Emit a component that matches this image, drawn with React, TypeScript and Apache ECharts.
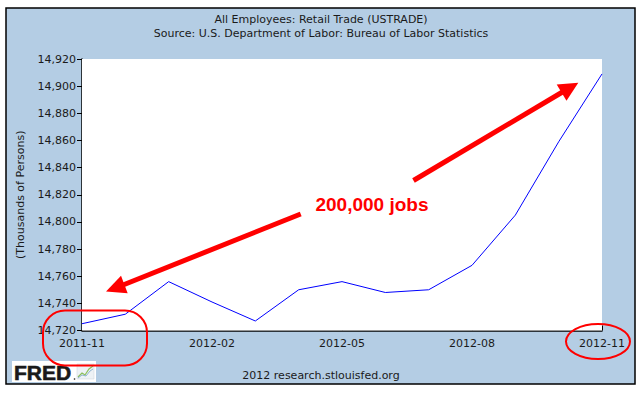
import React, { useEffect, useRef } from 'react';
import * as echarts from 'echarts';

const months = [
  '2011-11', '2011-12', '2012-01', '2012-02', '2012-03', '2012-04', '2012-05',
  '2012-06', '2012-07', '2012-08', '2012-09', '2012-10', '2012-11',
];
const retailEmployees = [
  14725, 14732, 14756, 14741, 14727, 14750, 14756,
  14748, 14750, 14768, 14805, 14859, 14909,
];
const yMin = 14720;
const yMax = 14920;
const yStep = 20;

const titleText = 'All Employees: Retail Trade (USTRADE)';
const subtitleText = 'Source: U.S. Department of Labor: Bureau of Labor Statistics';
const yAxisName = '(Thousands of Persons)';
const footerText = '2012 research.stlouisfed.org';
const annotationText = '200,000 jobs';

const FONT = 'DejaVu Sans';
const RED = '#ff0000';

export default function App() {
  const ref = useRef<HTMLDivElement>(null);
  useEffect(() => {
    document.body.style.margin = '0';
    const chart = echarts.init(ref.current!, null, { renderer: 'svg' });
    chart.setOption({
      animation: false,
      backgroundColor: '#ffffff',
      title: {
        text: titleText,
        subtext: subtitleText,
        left: 'center',
        top: 12,
        itemGap: 0,
        padding: 0,
        textStyle: { fontFamily: FONT, fontSize: 11, fontWeight: 'normal', color: '#1a1a1a', lineHeight: 14 },
        subtextStyle: { fontFamily: FONT, fontSize: 11, color: '#1a1a1a', lineHeight: 14 },
      },
      grid: {
        left: 82,
        right: 40,
        top: 59,
        bottom: 64.5,
        show: true,
        backgroundColor: '#ffffff',
        borderWidth: 0,
        z: 1,
      },
      xAxis: {
        type: 'category',
        data: months,
        boundaryGap: false,
        axisLine: { lineStyle: { color: '#000', width: 1.5 } },
        axisTick: { inside: true, length: 5, interval: 2, lineStyle: { color: '#000', width: 1 } },
        axisLabel: { interval: 2, margin: 7, fontFamily: FONT, fontSize: 11, color: '#1a1a1a' },
        splitLine: { show: false },
      },
      yAxis: {
        type: 'value',
        min: yMin,
        max: yMax,
        interval: yStep,
        name: yAxisName,
        nameLocation: 'middle',
        nameRotate: 90,
        nameGap: 56,
        nameTextStyle: { fontFamily: FONT, fontSize: 11, color: '#1a1a1a' },
        axisLine: { show: true, lineStyle: { color: '#000', width: 1.5 } },
        axisTick: { show: true, length: 5, lineStyle: { color: '#000', width: 1 } },
        axisLabel: {
          margin: 6,
          fontFamily: FONT,
          fontSize: 11,
          color: '#1a1a1a',
          formatter: (v: number) => v.toLocaleString('en-US'),
        },
        splitLine: { show: true, lineStyle: { color: '#aaaaaa', width: 1 } },
      },
      series: [
        {
          type: 'line',
          data: retailEmployees,
          showSymbol: false,
          symbol: 'none',
          lineStyle: { color: '#0000ff', width: 1 },
          itemStyle: { color: '#0000ff' },
          z: 3,
        },
      ],
      graphic: {
        elements: [
          {
            type: 'rect',
            z: -10,
            silent: true,
            shape: { x: 6, y: 8, width: 629, height: 376 },
            style: { fill: '#b4cde4', stroke: '#000', lineWidth: 1.5 },
          },
          {
            type: 'text',
            z: 50,
            x: 321,
            y: 375,
            style: {
              text: footerText,
              fontFamily: FONT,
              fontSize: 11,
              fill: '#1a1a1a',
              textAlign: 'center',
              textVerticalAlign: 'middle',
            },
          },
          // FRED logo
          {
            type: 'rect',
            z: 50,
            shape: { x: 12, y: 361, width: 84, height: 21 },
            style: { fill: '#ffffff' },
          },
          {
            type: 'text',
            z: 51,
            x: 14,
            y: 372,
            style: {
              text: 'FRED',
              fontFamily: 'Liberation Sans',
              fontWeight: 'bold',
              fontSize: 21,
              fill: '#1a1a1a',
              stroke: '#1a1a1a',
              lineWidth: 0.6,
              textVerticalAlign: 'middle',
            },
          },
          {
            type: 'circle',
            z: 51,
            shape: { cx: 74.5, cy: 379, r: 0.8 },
            style: { fill: '#555' },
          },
          {
            type: 'rect',
            z: 51,
            shape: { x: 77, y: 364, width: 17, height: 15 },
            style: { fill: '#eef2f5', stroke: '#c8d0d8', lineWidth: 0.5 },
          },
          {
            type: 'polyline',
            z: 52,
            shape: { points: [[78, 377], [82, 373], [85, 375], [89, 369], [93, 366]] },
            style: { stroke: '#8cbf5a', lineWidth: 1.2, fill: 'none' },
          },
          {
            type: 'polyline',
            z: 52,
            shape: { points: [[78, 378], [82, 375], [86, 376], [90, 371], [93, 369]] },
            style: { stroke: '#7aa6c8', lineWidth: 0.8, fill: 'none' },
          },
          // annotation arrows
          {
            type: 'line',
            z: 60,
            shape: { x1: 300.7, y1: 214, x2: 123, y2: 285 },
            style: { stroke: RED, lineWidth: 5 },
          },
          {
            type: 'polygon',
            z: 60,
            shape: { points: [[106, 291.5], [121, 275.7], [127.7, 293.3]] },
            style: { fill: RED },
          },
          {
            type: 'line',
            z: 60,
            shape: { x1: 413.5, y1: 180.5, x2: 562.5, y2: 92 },
            style: { stroke: RED, lineWidth: 5 },
          },
          {
            type: 'polygon',
            z: 60,
            shape: { points: [[578.3, 82.7], [556.7, 84.5], [566.5, 100.7]] },
            style: { fill: RED },
          },
          {
            type: 'text',
            z: 60,
            x: 372,
            y: 204,
            style: {
              text: annotationText,
              fontFamily: 'Liberation Sans',
              fontWeight: 'bold',
              fontSize: 19,
              fill: RED,
              textAlign: 'center',
              textVerticalAlign: 'middle',
            },
          },
          // highlight circles
          {
            type: 'rect',
            z: 60,
            shape: { x: 43, y: 310.5, width: 104, height: 55, r: 22 },
            style: { fill: 'none', stroke: RED, lineWidth: 2 },
          },
          {
            type: 'ellipse',
            z: 60,
            shape: { cx: 598, cy: 341.5, rx: 32, ry: 17.5 },
            style: { fill: 'none', stroke: RED, lineWidth: 2 },
          },
        ],
      },
    });
    return () => chart.dispose();
  }, []);
  return <div ref={ref} style={{ width: 642, height: 395 }} />;
}
